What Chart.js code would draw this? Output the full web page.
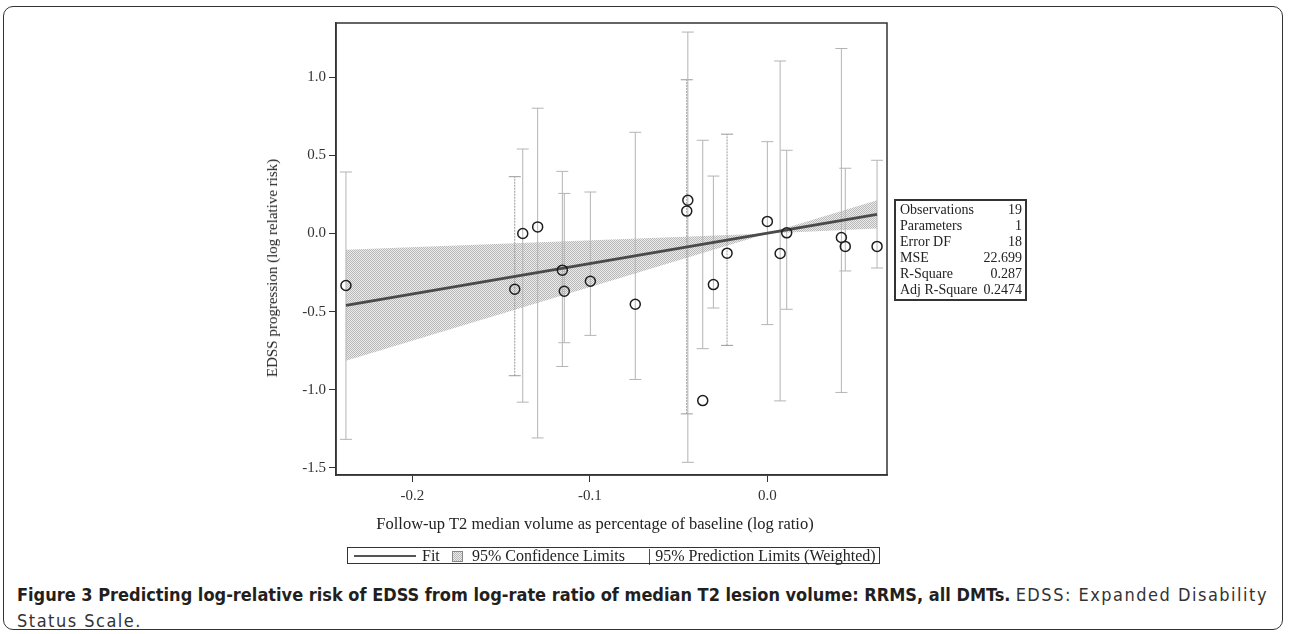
<!DOCTYPE html>
<html>
<head>
<meta charset="utf-8">
<script src="https://cdn.jsdelivr.net/npm/chart.js@4.4.1/dist/chart.umd.min.js"></script>
<style>
  html, body { margin: 0; padding: 0; background: #fff; width: 1289px; height: 634px; overflow: hidden; }
  #frame { position: absolute; left: 3px; top: 6px; width: 1278px; height: 622px; border: 1.5px solid #333; border-radius: 10px; }
  #wrap { position: absolute; left: 0; top: 0; width: 1289px; height: 580px; }
  .axTitle { position: absolute; font: 16px 'Liberation Serif', serif; color: #222; white-space: nowrap; line-height: 18px; }
  #xTitle { left: 595px; top: 515px; transform: translateX(-50%); font-size: 16.5px; }
  #yTitle { left: 272px; top: 268px; transform: translate(-50%, -50%) rotate(-90deg); font-size: 15px; }
  #stats { position: absolute; left: 894px; top: 199px; width: 129px; border: 2px solid #333;
    font: 14px 'Liberation Serif', serif; color: #222; line-height: 16px; padding: 1px 0; }
  #stats div { display: flex; justify-content: space-between; padding: 0 3px 0 4px; }
  #legend { position: absolute; left: 347px; top: 547px; width: 531px; height: 15px; border: 1.5px solid #333;
    font: 16px 'Liberation Serif', serif; color: #222; line-height: 15px; white-space: nowrap; }
  #legend span { position: absolute; top: 0; }
  .lgLine { position: absolute; left: 6px; top: 7px; width: 62px; height: 2px; background: #555; }
  .lgBox { position: absolute; left: 104px; top: 3px; width: 9px; height: 9px; border: 1px solid #888;
    background: repeating-conic-gradient(#b8b8b8 0 25%, #ececec 0 50%) 0 0 / 2px 2px; }
  #caption { position: absolute; left: 17px; top: 582px; width: 1262px; font-family: 'Liberation Sans Narrow', 'DejaVu Sans Condensed', sans-serif;
    font-size: 18px; line-height: 26px; color: #231f20; white-space: nowrap; }
  #caption b { font-weight: bold; }
  #caption .n { letter-spacing: 1.5px; color: #333; }
</style>
</head>
<body>
<div id="frame"></div>
<div id="wrap"><canvas id="chart"></canvas></div>
<div class="axTitle" id="xTitle">Follow-up T2 median volume as percentage of baseline (log ratio)</div>
<div class="axTitle" id="yTitle">EDSS progression (log relative risk)</div>
<div id="stats"></div>
<div id="legend">
  <div class="lgLine"></div>
  <span style="left:74px">Fit</span>
  <div class="lgBox"></div>
  <span style="left:124px">95% Confidence Limits</span>
  <span style="left:300px">| 95% Prediction Limits (Weighted)</span>
</div>
<div id="caption"><b>Figure 3 Predicting log-relative risk of EDSS from log-rate ratio of median T2 lesion volume: RRMS, all DMTs.</b> <span class="n">EDSS: Expanded Disability<br>Status Scale.</span></div>
<script>
// observed points (log ratio, log relative risk)
const obsX = [-0.2374, -0.1423, -0.1378, -0.1294, -0.1155, -0.1144, -0.0997, -0.0744, -0.0448, -0.0454,
              -0.0364, -0.0304, -0.0227, 0.0000, 0.0072, 0.0109, 0.0417, 0.0439, 0.0618];
const obsY = [-0.333, -0.357, 0.000, 0.042, -0.235, -0.370, -0.306, -0.453, 0.212, 0.143,
              -1.069, -0.327, -0.126, 0.077, -0.128, 0.004, -0.026, -0.083, -0.083];
// 95% prediction limits per observation
const predLo = [-1.317, -0.910, -1.079, -1.308, -0.851, -0.699, -0.652, -0.934, -1.464, -1.154,
                -0.737, -0.477, -0.716, -0.583, -1.071, -0.485, -1.017, -0.240, -0.221];
const predHi = [0.393, 0.363, 0.540, 0.801, 0.397, 0.256, 0.265, 0.647, 1.288, 0.983,
                0.596, 0.367, 0.635, 0.587, 1.103, 0.532, 1.183, 0.417, 0.468];
const dottedBars = [1, 9, 12];

// fit line and confidence band
const fitX = [-0.2374, 0.0618];
const fitY = [-0.460, 0.122];
const bandX = [-0.2374, 0.0, 0.0618];
const bandLo = [-0.815, 0.0, 0.032];
const bandHi = [-0.105, 0.0, 0.213];

const xTicks = [-0.2, -0.1, 0.0];
const yTicks = [-1.5, -1.0, -0.5, 0.0, 0.5, 1.0];

const statLabels = ['Observations', 'Parameters', 'Error DF', 'MSE', 'R-Square', 'Adj R-Square'];
const statValues = ['19', '1', '18', '22.699', '0.287', '0.2474'];

document.getElementById('stats').innerHTML = statLabels.map((l, i) => `<div><span>${l}</span><span>${statValues[i]}</span></div>`).join('');

// hatched fill for the confidence band
function hatch() {
    const c = document.createElement('canvas');
    c.width = 2; c.height = 2;
    const g = c.getContext('2d');
    g.fillStyle = '#ececec'; g.fillRect(0, 0, 2, 2);
    g.fillStyle = '#b8b8b8'; g.fillRect(0, 0, 1, 1); g.fillRect(1, 1, 1, 1);
    return g.createPattern(c, 'repeat');
}

Chart.defaults.font.family = "'Liberation Serif', serif";
Chart.defaults.color = '#333';

const datasets = [];
datasets.push({ type: 'line', data: bandX.map((x, i) => ({ x, y: bandLo[i] })), borderWidth: 0, pointRadius: 0, fill: false, order: 4 });
datasets.push({ type: 'line', data: bandX.map((x, i) => ({ x, y: bandHi[i] })), borderWidth: 0, pointRadius: 0, fill: '-1', backgroundColor: hatch(), order: 4 });

obsX.forEach((x, i) => {
    const dotted = dottedBars.includes(i);
    datasets.push({
        type: 'line',
        data: [{ x, y: predLo[i] }, { x, y: predHi[i] }],
        borderColor: dotted ? '#999' : '#b4b4b4',
        borderWidth: 1,
        borderDash: dotted ? [2, 1] : [],
        pointStyle: 'line', pointRadius: 6, pointBorderWidth: 1,
        pointBorderColor: dotted ? '#999' : '#b4b4b4',
        fill: false, order: 3
    });
});

datasets.push({ type: 'line', data: fitX.map((x, i) => ({ x, y: fitY[i] })), borderColor: '#4a4a4a', borderWidth: 3, pointRadius: 0, fill: false, order: 2 });
datasets.push({ type: 'scatter', data: obsX.map((x, i) => ({ x, y: obsY[i] })), pointStyle: 'circle', pointRadius: 5,
    pointBorderWidth: 1.5, pointBorderColor: '#1e1e1e', pointBackgroundColor: 'rgba(0,0,0,0)', order: 1 });

const framePlugin = {
    id: 'frame',
    afterDraw(chart) {
        const { ctx, chartArea: a } = chart;
        ctx.save();
        ctx.strokeStyle = '#333';
        ctx.lineWidth = 1.5;
        ctx.strokeRect(a.left, a.top, a.right - a.left, a.bottom - a.top);
        ctx.restore();
    }
};

new Chart(document.getElementById('chart'), {
    type: 'scatter',
    data: { datasets },
    plugins: [framePlugin],
    options: {
        responsive: true,
        maintainAspectRatio: false,
        animation: false,
        layout: { padding: { left: 260, top: 23, right: 402, bottom: 45 } },
        plugins: { legend: { display: false }, tooltip: { enabled: false } },
        scales: {
            x: {
                type: 'linear', min: -0.243, max: 0.0674,
                afterBuildTicks: s => { s.ticks = xTicks.map(v => ({ value: v })); },
                afterFit: s => { s.height = 60; },
                ticks: { callback: v => v.toFixed(1), font: { size: 15 }, padding: 5, color: '#333' },
                grid: { drawOnChartArea: false, tickLength: 7, color: '#333' },
                border: { color: '#333', width: 1.5 }
            },
            y: {
                type: 'linear', min: -1.545, max: 1.346,
                afterBuildTicks: s => { s.ticks = yTicks.map(v => ({ value: v })); },
                afterFit: s => { s.width = 76; },
                ticks: { callback: v => v.toFixed(1), font: { size: 15 }, padding: 3, color: '#333' },
                grid: { drawOnChartArea: false, tickLength: 7, color: '#333' },
                border: { color: '#333', width: 1.5 }
            }
        }
    }
});
</script>
</body>
</html>
